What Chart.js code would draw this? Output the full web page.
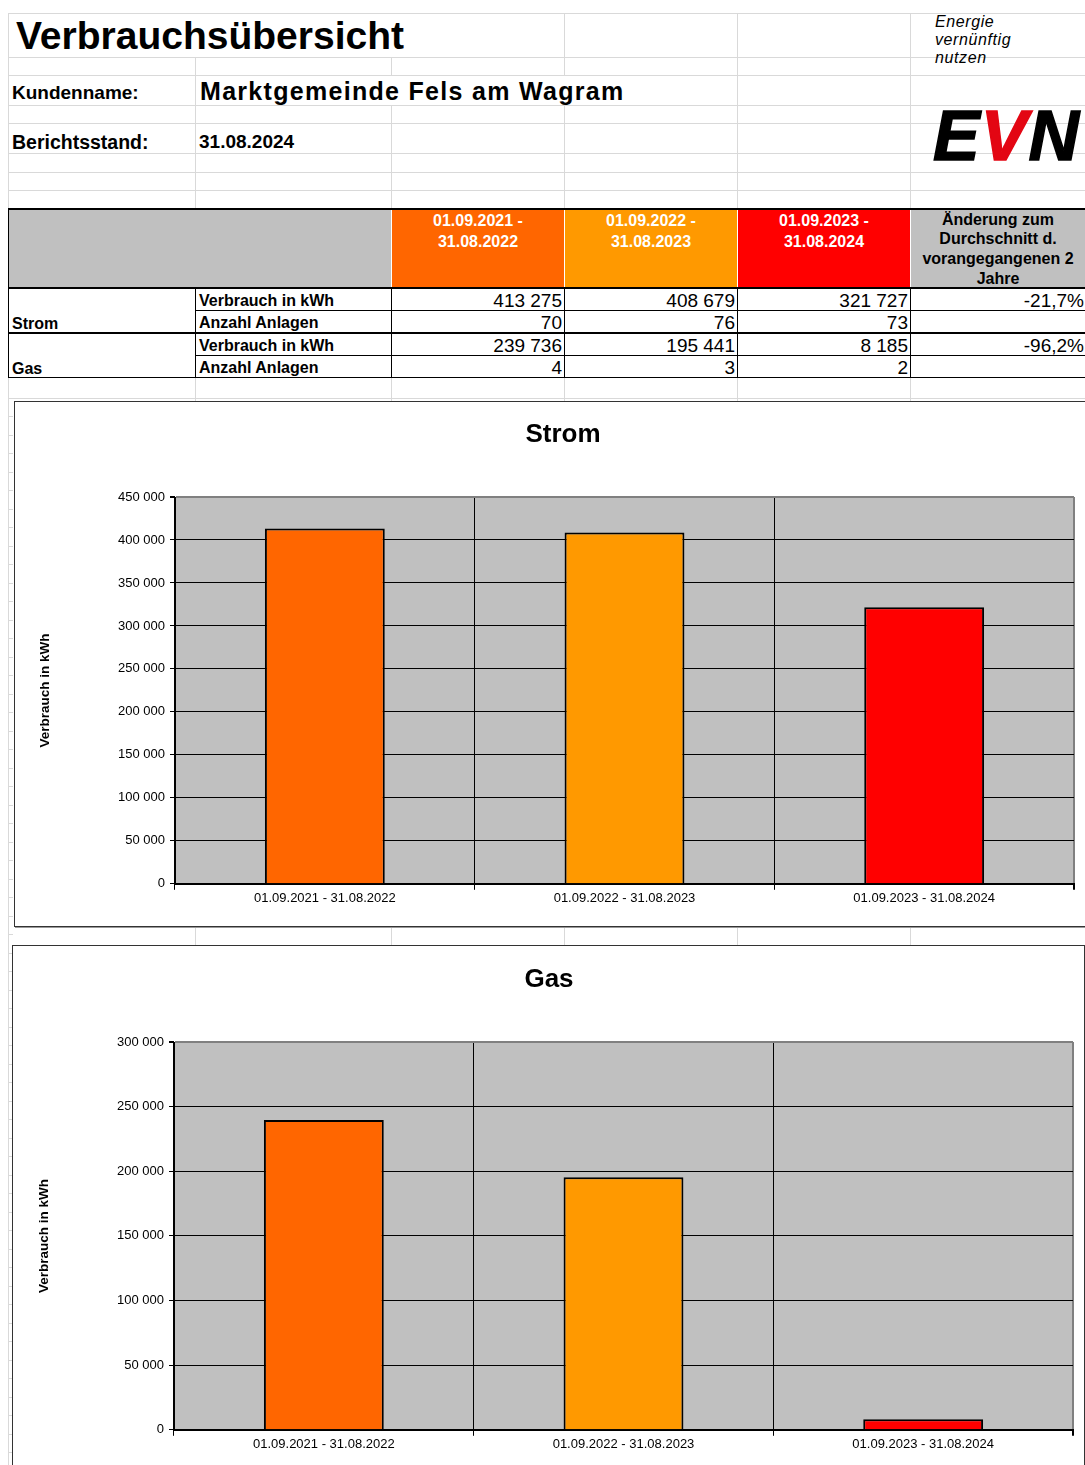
<!DOCTYPE html>
<html>
<head>
<meta charset="utf-8">
<script src="https://cdn.jsdelivr.net/npm/chart.js@4.4.1/dist/chart.umd.min.js"></script>
<style>
  body { margin: 0; background: #fff; font-family: "Liberation Sans", Arial, sans-serif; }
  #page { position: relative; width: 1085px; height: 1465px; overflow: hidden; }
  .a { position: absolute; white-space: nowrap; }
  .gl { position: absolute; background: #d9d9d9; }
  .bl { position: absolute; background: #000; }
  .box { position: absolute; background: #fff; border: 1px solid #333; box-shadow: 1px 1px 0 #999; }
  .box canvas { position: absolute; }
  .hd { position: absolute; top: 210px; height: 77px; color: #fff; font-weight: bold; font-size: 16px; line-height: 21px; text-align: center; }
  .lbl { font-weight: bold; font-size: 16px; }
  .num { font-size: 19px; text-align: right; }
</style>
</head>
<body>
<div id="page">
  <div id="grid"></div>

  <div class="a" style="left:16px; top:14px; line-height:44px; font-size:39px; font-weight:bold;">Verbrauchsübersicht</div>
  <div class="a" style="left:935px; top:13px; font-size:16px; font-style:italic; line-height:18px; letter-spacing:0.6px;">Energie<br>vernünftig<br>nutzen</div>
  <div class="a" style="left:12px; top:80px; line-height:26px; font-size:19px; font-weight:bold;">Kundenname:</div>
  <div class="a" style="left:200px; top:76px; line-height:30px; font-size:25px; font-weight:bold; letter-spacing:1.3px;">Marktgemeinde Fels am Wagram</div>
  <div class="a" style="left:12px; top:129px; line-height:26px; font-size:19.5px; font-weight:bold;">Berichtsstand:</div>
  <div class="a" style="left:199px; top:129px; line-height:26px; font-size:19px; font-weight:bold;">31.08.2024</div>
  <div class="a" style="left:933px; top:96px; font-size:70px; line-height:80px; font-weight:900; font-style:italic; letter-spacing:1px; -webkit-text-stroke:1.5px currentColor;"><span>E</span><span style="color:#e30613;">V</span><span>N</span></div>

  <div id="table"></div>

  <div class="box" style="left:14px; top:401px; width:1110px; height:524px;">
    <canvas id="strom" width="1096" height="524" style="left:0; top:0;"></canvas>
  </div>
  <div class="box" style="left:12px; top:945px; width:1071px; height:540px;">
    <canvas id="gas" width="1071" height="519" style="left:0; top:0;"></canvas>
  </div>
</div>

<script>
const periods = ['01.09.2021 - 31.08.2022', '01.09.2022 - 31.08.2023', '01.09.2023 - 31.08.2024'];
const stromKwh = [413275, 408679, 321727];
const stromAnlagen = [70, 76, 73];
const gasKwh = [239736, 195441, 8185];
const gasAnlagen = [4, 3, 2];
const changeStrom = '-21,7%';
const changeGas = '-96,2%';
const barColors = ['#ff6600', '#ff9900', '#ff0000'];
const stromMax = 450000;
const gasMax = 300000;
const tickStep = 50000;

const fmt = v => String(v).replace(/\B(?=(\d{3})+(?!\d))/g, ' ');

// spreadsheet grid lines
const grid = document.getElementById('grid');
function line(cls, x, y, w, h) {
    const d = document.createElement('div');
    d.className = cls;
    d.style.left = x + 'px'; d.style.top = y + 'px';
    d.style.width = w + 'px'; d.style.height = h + 'px';
    return d;
}
const allCols = [195, 391, 564, 737, 910];
const bands = [
    [13, 57, [564, 737, 910]],
    [57, 75, allCols],
    [75, 105, [195, 737, 910]],
    [105, 123, allCols],
    [123, 153, allCols],
    [153, 172, allCols],
    [172, 190, allCols],
    [190, 208, allCols],
    [377, 401, allCols],
    [926, 945, allCols]
];
bands.forEach(([y0, y1, cols]) => cols.forEach(x => grid.appendChild(line('gl', x, y0, 1, y1 - y0))));
[13, 57, 75, 105, 123, 153, 172, 190, 398].forEach(y => grid.appendChild(line('gl', 8, y, 1077, 1)));
grid.appendChild(line('gl', 8, 13, 1, 1452));
for (let y = 416; y < 1465; y += 18.5) grid.appendChild(line('gl', 8, Math.round(y), 5, 1));

// table
const table = document.getElementById('table');
function text(cls, html, x, y, w, h, extra) {
    const d = document.createElement('div');
    d.className = 'a ' + cls;
    d.innerHTML = html;
    Object.assign(d.style, { left: x + 'px', top: y + 'px', width: w + 'px', height: h + 'px', lineHeight: h + 'px' }, extra || {});
    table.appendChild(d);
}
const colX = [8, 195, 391, 564, 737, 910, 1085];
table.appendChild(Object.assign(document.createElement('div'), { style: 'position:absolute;left:8px;top:210px;width:383px;height:77px;background:#c0c0c0' }));
table.appendChild(Object.assign(document.createElement('div'), { style: 'position:absolute;left:911px;top:210px;width:174px;height:77px;background:#c0c0c0' }));
periods.forEach((p, i) => {
    const d = document.createElement('div');
    d.className = 'hd';
    d.style.left = (colX[i + 2] + 1) + 'px';
    d.style.width = (colX[i + 3] - colX[i + 2] - 1) + 'px';
    d.style.background = barColors[i];
    d.innerHTML = p.replace(' - ', ' -<br>');
    table.appendChild(d);
});
const lastHd = document.createElement('div');
lastHd.className = 'hd';
Object.assign(lastHd.style, { left: '911px', width: '174px', color: '#000', lineHeight: '19.7px', top: '209.5px' });
lastHd.innerHTML = 'Änderung zum<br>Durchschnitt d.<br>vorangegangenen 2<br>Jahre';
table.appendChild(lastHd);

// borders
table.appendChild(line('bl', 8, 208, 1077, 2));
table.appendChild(line('bl', 8, 287, 1077, 2));
table.appendChild(line('bl', 195, 310, 890, 1));
table.appendChild(line('bl', 8, 332, 1077, 2));
table.appendChild(line('bl', 195, 355, 890, 1));
table.appendChild(line('bl', 8, 377, 1077, 1));
table.appendChild(line('bl', 8, 208, 1, 170));
[195, 391, 564, 737, 910].forEach(x => table.appendChild(line('bl', x, 288, 1, 90)));

const rows = [
    { y: 289, h: 21, label: 'Verbrauch in kWh', vals: stromKwh.map(fmt), pct: changeStrom },
    { y: 311, h: 21, label: 'Anzahl Anlagen', vals: stromAnlagen.map(String), pct: '' },
    { y: 334, h: 21, label: 'Verbrauch in kWh', vals: gasKwh.map(fmt), pct: changeGas },
    { y: 356, h: 21, label: 'Anzahl Anlagen', vals: gasAnlagen.map(String), pct: '' }
];
rows.forEach(r => {
    text('lbl', r.label, 199, r.y + 1, 190, r.h);
    r.vals.forEach((v, i) => text('num', v, colX[i + 2], r.y + 1, colX[i + 3] - colX[i + 2] - 2, r.h));
    if (r.pct) text('num', r.pct, 910, r.y + 1, 174, r.h);
});
text('lbl', 'Strom', 12, 313, 150, 21);
text('lbl', 'Gas', 12, 358, 150, 21);

// charts
Chart.defaults.font.family = '"Liberation Sans", Arial, sans-serif';

const plotBg = {
    id: 'plotBg',
    beforeDraw(chart) {
        const { ctx, chartArea: a } = chart;
        ctx.save();
        ctx.fillStyle = '#c0c0c0';
        ctx.fillRect(a.left, a.top, a.width, a.height);
        ctx.restore();
    }
};
const titleShift = {
    id: 'titleShift',
    afterLayout(chart, args, opts) {
        const t = chart.titleBlock;
        if (t && opts.dx) { t.left += opts.dx; t.right += opts.dx; }
    }
};

function makeChart(id, title, values, max, p) {
    new Chart(document.getElementById(id), {
        type: 'bar',
        data: {
            labels: periods,
            datasets: [{
                data: values,
                backgroundColor: barColors,
                borderColor: '#000',
                borderWidth: 2,
                categoryPercentage: 1,
                barPercentage: 0.4
            }]
        },
        options: {
            responsive: false,
            animation: false,
            layout: { padding: { left: p.left, right: p.right, top: 0, bottom: p.bottom } },
            plugins: {
                legend: { display: false },
                tooltip: { enabled: false },
                title: {
                    display: true, text: title, color: '#000',
                    font: { size: 26, weight: 'bold' },
                    padding: { top: p.titleTop, bottom: p.titleBottom }
                },
                titleShift: { dx: p.dx }
            },
            scales: {
                x: {
                    grid: {
                        color: c => c.type === 'tick' ? '#000' : '#808080',
                        lineWidth: c => c.type === 'tick' ? 1 : 2,
                        tickColor: '#000', tickLength: 6
                    },
                    border: { color: '#000', width: 2 },
                    ticks: { color: '#000', font: { size: 13 }, padding: 1, maxRotation: 0 }
                },
                y: {
                    min: 0, max: max,
                    ticks: { stepSize: tickStep, callback: v => fmt(v), color: '#000', font: { size: 13 }, padding: 5 },
                    grid: {
                        color: c => c.tick && c.tick.value === max ? '#808080' : '#000',
                        lineWidth: c => c.tick && c.tick.value === max ? 2 : 1,
                        tickColor: '#000', tickLength: 5
                    },
                    border: { color: '#000', width: 1 },
                    title: { display: true, text: 'Verbrauch in kWh', color: '#000', font: { size: 13.5, weight: 'bold' }, padding: { top: 2, bottom: 0 } },
                    afterFit: s => { s.width = 140; }
                }
            }
        },
        plugins: [plotBg, titleShift]
    });
}

makeChart('strom', 'Strom', stromKwh, stromMax, { left: 20, right: 37, bottom: 18.6, titleTop: 17.4, titleBottom: 46.4, dx: 8.5 });
makeChart('gas', 'Gas', gasKwh, gasMax, { left: 21, right: 11, bottom: 11.6, titleTop: 18.4, titleBottom: 46.4, dx: -4.5 });
</script>
</body>
</html>
